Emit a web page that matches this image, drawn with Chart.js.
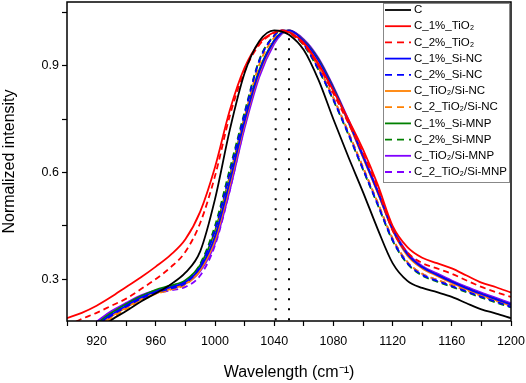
<!DOCTYPE html>
<html><head><meta charset="utf-8">
<script src="https://cdn.jsdelivr.net/npm/chart.js@4/dist/chart.umd.min.js"></script>
<style>html,body{margin:0;padding:0;background:#fff}#wrap{width:526px;height:383px;position:relative}</style>
</head><body><div id="wrap"><canvas id="c" width="526" height="383"></canvas></div>
<script>
const wavelengths = [900,910,920,930,940,950,960,970,980,990,1000,1010,1020,1030,1040,1045,1050,1060,1070,1080,1090,1100,1110,1120,1130,1140,1150,1160,1170,1180,1190,1200];
const seriesNames = ['C','C_1%_TiO\u2082','C_2%_TiO\u2082','C_1%_Si-NC','C_2%_Si-NC','C_TiO\u2082/Si-NC','C_2_TiO\u2082/Si-NC','C_1%_Si-MNP','C_2%_Si-MNP','C_TiO\u2082/Si-MNP','C_2_TiO\u2082/Si-MNP'];
const C_ = [0.10,0.125,0.15,0.185,0.21,0.237,0.26,0.285,0.318,0.378,0.525,0.72,0.88,0.97,1.0,0.997,0.988,0.945,0.86,0.75,0.645,0.545,0.44,0.345,0.295,0.275,0.263,0.25,0.232,0.215,0.203,0.19];
const C_1TiO2 = [0.19,0.205,0.225,0.25,0.278,0.305,0.335,0.368,0.412,0.49,0.615,0.775,0.895,0.965,0.995,1.0,0.995,0.965,0.905,0.83,0.75,0.665,0.565,0.45,0.39,0.36,0.345,0.33,0.31,0.29,0.277,0.262];
const C_2TiO2 = [0.168,0.188,0.205,0.225,0.245,0.272,0.3,0.333,0.377,0.458,0.59,0.76,0.885,0.96,0.993,1.0,0.993,0.96,0.9,0.822,0.74,0.655,0.555,0.437,0.375,0.345,0.33,0.315,0.296,0.278,0.263,0.25];
const C_1SiNC = [0.11,0.14,0.17,0.2,0.225,0.248,0.265,0.277,0.292,0.332,0.42,0.575,0.745,0.885,0.97,0.993,1.0,0.97,0.915,0.835,0.745,0.645,0.545,0.44,0.37,0.333,0.312,0.292,0.274,0.258,0.243,0.228];
const C_2SiNC = [0.11,0.14,0.168,0.197,0.222,0.245,0.262,0.273,0.288,0.336,0.44,0.6,0.765,0.915,0.985,1.0,0.995,0.96,0.89,0.805,0.71,0.61,0.51,0.41,0.345,0.312,0.295,0.28,0.265,0.25,0.236,0.222];
const C_TiO2SiNC = [0.105,0.135,0.165,0.195,0.22,0.243,0.26,0.272,0.287,0.325,0.41,0.565,0.738,0.88,0.968,0.992,1.0,0.97,0.913,0.833,0.742,0.642,0.542,0.437,0.366,0.33,0.309,0.289,0.271,0.255,0.24,0.225];
const C_2TiO2SiNC = [0.1,0.13,0.16,0.19,0.216,0.24,0.258,0.27,0.284,0.327,0.425,0.585,0.755,0.905,0.98,0.998,0.997,0.963,0.895,0.81,0.715,0.615,0.515,0.414,0.348,0.315,0.298,0.283,0.268,0.253,0.239,0.225];
const C_1SiMNP = [0.115,0.145,0.175,0.205,0.23,0.252,0.27,0.282,0.297,0.34,0.435,0.59,0.755,0.89,0.972,0.994,1.0,0.972,0.918,0.838,0.745,0.645,0.545,0.44,0.37,0.333,0.312,0.292,0.274,0.258,0.243,0.228];
const C_2SiMNP = [0.11,0.14,0.17,0.2,0.225,0.248,0.266,0.278,0.294,0.343,0.45,0.61,0.77,0.918,0.986,1.0,0.994,0.958,0.888,0.803,0.708,0.608,0.508,0.408,0.343,0.31,0.293,0.278,0.263,0.248,0.234,0.22];
const C_TiO2SiMNP = [0.12,0.15,0.18,0.21,0.233,0.254,0.268,0.276,0.287,0.322,0.4,0.55,0.725,0.87,0.962,0.99,1.0,0.975,0.922,0.842,0.75,0.65,0.55,0.445,0.375,0.337,0.316,0.296,0.278,0.262,0.247,0.232];
const C_2TiO2SiMNP = [0.115,0.145,0.175,0.203,0.226,0.246,0.26,0.268,0.278,0.31,0.395,0.55,0.73,0.88,0.97,0.995,1.0,0.965,0.895,0.81,0.714,0.614,0.514,0.414,0.348,0.315,0.298,0.283,0.268,0.253,0.239,0.225];
const markerLines = [1041, 1050];
const xTickValues = [900,920,940,960,980,1000,1020,1040,1060,1080,1100,1120,1140,1160,1180,1200];
const xTickLabels = ['','920','','960','','1000','','1040','','1080','','1120','','1160','','1200'];
const yTickValues = [0.3,0.45,0.6,0.75,0.9,1.05];
const yTickLabels = ['0.3','','0.6','','0.9',''];

const seriesValues = [C_,C_1TiO2,C_2TiO2,C_1SiNC,C_2SiNC,C_TiO2SiNC,C_2TiO2SiNC,C_1SiMNP,C_2SiMNP,C_TiO2SiMNP,C_2TiO2SiMNP];
const colors = ['#000000','#ff0000','#ff0000','#0000ff','#0000ff','#ff8000','#ff8000','#008000','#008000','#8000ff','#8000ff'];
const dashed = [false,false,true,false,true,false,true,false,true,false,true];
const FONT = '"Liberation Sans", Arial, sans-serif';

const datasets = seriesValues.map((vals,i)=>({
  label: seriesNames[i],
  data: vals.map((v,j)=>({x: wavelengths[j], y: v})),
  borderColor: colors[i], backgroundColor: colors[i],
  borderWidth: 1.8, borderDash: dashed[i] ? [6,4] : [],
  pointRadius: 0, cubicInterpolationMode: 'monotone', fill: false
}));
markerLines.forEach(m=>{
  datasets.push({label:'', data:[{x:m,y:0.1},{x:m,y:0.995}], borderColor:'#000', borderWidth:2,
    borderDash:[2,8], pointRadius:0, fill:false});
});

const framePlugin = {
  id:'frame',
  afterDatasetsDraw(chart){
    const {ctx, chartArea:a} = chart;
    ctx.save();
    ctx.strokeStyle = '#000'; ctx.lineWidth = 1.5;
    ctx.strokeRect(a.left, a.top, a.right-a.left, a.bottom-a.top);
    const lx = 383, ly = 3, lw = 126, lh = 179;
    ctx.fillStyle = '#fff'; ctx.fillRect(lx, ly, lw, lh);
    ctx.strokeStyle = '#888'; ctx.lineWidth = 1;
    ctx.strokeRect(lx+0.5, ly+0.5, lw, lh);
    ctx.font = '11.5px ' + FONT; ctx.textBaseline = 'middle'; ctx.textAlign = 'left';
    seriesNames.forEach((n,i)=>{
      const y = 10 + i*16.2;
      ctx.beginPath();
      ctx.strokeStyle = colors[i]; ctx.lineWidth = 1.8;
      ctx.setLineDash(dashed[i] ? [7,5] : []);
      ctx.moveTo(lx+2, y); ctx.lineTo(lx+28, y); ctx.stroke();
      ctx.setLineDash([]);
      ctx.fillStyle = '#000';
      ctx.fillText(n, lx+31, y);
    });
    ctx.restore();
  }
};

new Chart(document.getElementById('c'), {
  type: 'line',
  data: { datasets },
  options: {
    responsive: false, animation: false, devicePixelRatio: 1,
    layout: { padding: { top: 2, right: 15, left: 0, bottom: 0 } },
    plugins: { legend: { display: false }, tooltip: { enabled: false } },
    scales: {
      x: {
        type: 'linear', min: 900, max: 1200,
        afterBuildTicks: s => { s.ticks = xTickValues.map(v=>({value:v})); },
        afterFit: s => { s.height = 62; s.paddingLeft = 0; s.paddingRight = 0; },
        ticks: { autoSkip: false, maxRotation: 0, padding: 8, color:'#000',
          font: { family: FONT, size: 12.5 },
          callback: v => { const k = xTickValues.indexOf(v); return k >= 0 ? xTickLabels[k] : ''; } },
        grid: { drawOnChartArea: false, color: '#000', tickLength: 5, tickWidth: 1.2 },
        border: { display: false },
        title: { display: true, text: 'Wavelength (cm\u207B\u00B9)', color:'#000',
          font: { family: FONT, size: 16 }, padding: { top: 0, bottom: 1 } }
      },
      y: {
        type: 'linear', min: 0.182, max: 1.08,
        afterBuildTicks: s => { s.ticks = yTickValues.map(v=>({value:v})); },
        afterFit: s => { s.width = 67; s.paddingTop = 0; s.paddingBottom = 0; },
        ticks: { padding: 3, color:'#000', font: { family: FONT, size: 12.5 },
          callback: v => { const k = yTickValues.findIndex(t=>Math.abs(t-v)<1e-9); return k >= 0 ? yTickLabels[k] : ''; } },
        grid: { drawOnChartArea: false, color: '#000', tickLength: 5, tickWidth: 1.2 },
        border: { display: false },
        title: { display: true, text: 'Normalized intensity', color:'#000',
          font: { family: FONT, size: 16 }, padding: { top: 0, bottom: 0 } }
      }
    }
  },
  plugins: [framePlugin]
});
</script></body></html>
